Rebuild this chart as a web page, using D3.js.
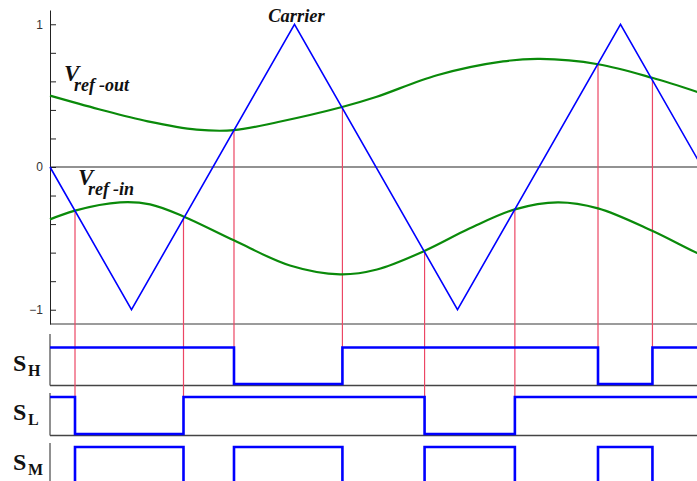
<!DOCTYPE html>
<html>
<head>
<meta charset="utf-8">
<script src="https://cdn.jsdelivr.net/npm/d3@7"></script>
<style>
  html, body { margin: 0; padding: 0; background: #fff; }
  svg { display: block; }
</style>
</head>
<body>
<script>
// Carrier triangle wave (time in carrier periods)
const carrierTimes  = [0, 0.25, 0.75, 1.25, 1.75, 2.0];
const carrierValues = [0, -1, 1, -1, 1, 0];

// Upper reference signal samples
const refOutTimes  = [0, 0.15, 0.30, 0.45, 0.564, 0.70, 0.896, 1.0, 1.187, 1.39, 1.503, 1.681, 1.847, 2.0];
const refOutValues = [0.50, 0.405, 0.32, 0.262, 0.258, 0.315, 0.42, 0.49, 0.643, 0.74, 0.757, 0.72, 0.625, 0.515];

// Lower reference signal samples
const refInTimes  = [0, 0.074, 0.215, 0.307, 0.411, 0.564, 0.736, 0.890, 1.003, 1.147, 1.288, 1.426, 1.558, 1.681, 1.847, 1.985, 2.0];
const refInValues = [-0.367, -0.307, -0.248, -0.262, -0.348, -0.514, -0.69, -0.752, -0.718, -0.59, -0.43, -0.297, -0.248, -0.29, -0.447, -0.602, -0.612];

// Carrier / reference crossing instants and which reference they belong to
const crossTimes = [0.0767, 0.4095, 0.5644, 0.897, 1.149, 1.426, 1.681, 1.848];
const crossRef   = ["in", "in", "out", "out", "in", "in", "out", "out"];

// Switching states
const shTimes  = [0, 0.5644, 0.897, 1.681, 1.848, 2.0];
const shStates = [1, 0, 1, 0, 1, 1];
const slTimes  = [0, 0.0767, 0.4095, 1.149, 1.426, 2.0];
const slStates = [1, 0, 1, 0, 1, 1];
const smTimes  = [0, 0.0767, 0.4095, 0.5644, 0.897, 1.149, 1.426, 1.681, 1.848, 2.0];
const smStates = [0, 1, 0, 1, 0, 1, 0, 1, 0, 0];

// Axis ticks
const yTicks = [-1, -0.8, -0.6, -0.4, -0.2, 0, 0.2, 0.4, 0.6, 0.8, 1];
const yTickLabels = [-1, 0, 1];

const W = 697, H = 481;
const svg = d3.select("body").append("svg").attr("width", W).attr("height", H);

const x = d3.scaleLinear().domain([0, 2]).range([50, 702]);
const y = d3.scaleLinear().domain([-1.1, 1.1]).range([324, 10]);

const zip = (ts, vs) => ts.map((t, i) => ({ t, v: vs[i] }));
const carrierAt = d3.scaleLinear().domain(carrierTimes).range(carrierValues);

// Signal rows: high / low levels and baseline
const rows = [
  { name: "H", times: shTimes, states: shStates, high: 347.5, low: 384, base: 385.5, top: 334 },
  { name: "L", times: slTimes, states: slStates, high: 397, low: 434, base: 435.5, top: 393 },
  { name: "M", times: smTimes, states: smStates, high: 447, low: 484, base: 485.5, top: 443 }
];

// Zero line and panel baseline
svg.append("line").attr("x1", x(0)).attr("x2", W).attr("y1", y(0)).attr("y2", y(0))
  .attr("stroke", "#6e6e6e").attr("stroke-width", 1.5);
svg.append("line").attr("x1", x(0)).attr("x2", W).attr("y1", y(-1.1)).attr("y2", y(-1.1))
  .attr("stroke", "#7a7a7a").attr("stroke-width", 1.5);

// Y axis with inward ticks
const yAxis = d3.axisLeft(y)
  .tickValues(yTicks)
  .tickSizeInner(-6)
  .tickSizeOuter(0)
  .tickPadding(7)
  .tickFormat(d => yTickLabels.some(v => Math.abs(v - d) < 1e-9) ? d3.format("d")(d) : "");
const gy = svg.append("g").attr("transform", `translate(${x(0)},0)`).call(yAxis);
gy.select(".domain").attr("stroke", "#222");
gy.selectAll(".tick line").attr("stroke", "#222");
gy.selectAll(".tick text")
  .attr("font-family", "'Liberation Sans', Arial, sans-serif")
  .attr("font-size", 12).attr("fill", "#333");

// Signal row frames
rows.forEach(r => {
  svg.append("line").attr("x1", x(0)).attr("x2", x(0)).attr("y1", r.top).attr("y2", r.base)
    .attr("stroke", "#222").attr("stroke-width", 1);
  svg.append("line").attr("x1", x(0)).attr("x2", W).attr("y1", r.base).attr("y2", r.base)
    .attr("stroke", "#444").attr("stroke-width", 1.5);
});

// Crossing markers
crossTimes.forEach((t, i) => {
  const row = crossRef[i] === "out" ? rows[0] : rows[1];
  svg.append("line")
    .attr("x1", x(t)).attr("x2", x(t))
    .attr("y1", y(carrierAt(t))).attr("y2", row.high)
    .attr("stroke", "#ec4664").attr("stroke-width", 1.2);
});

// Reference curves
const curveLine = d3.line().x(d => x(d.t)).y(d => y(d.v)).curve(d3.curveCatmullRom.alpha(0.5));
svg.append("path").datum(zip(refOutTimes, refOutValues)).attr("d", curveLine)
  .attr("fill", "none").attr("stroke", "#0a8a0a").attr("stroke-width", 2.2);
svg.append("path").datum(zip(refInTimes, refInValues)).attr("d", curveLine)
  .attr("fill", "none").attr("stroke", "#0a8a0a").attr("stroke-width", 2.2);

// Carrier
const carrierLine = d3.line().x(d => x(d.t)).y(d => y(d.v));
svg.append("path").datum(zip(carrierTimes, carrierValues)).attr("d", carrierLine)
  .attr("fill", "none").attr("stroke", "#0000ff").attr("stroke-width", 1.6)
  .attr("stroke-linejoin", "miter");

const serif = "'Liberation Serif', 'Times New Roman', serif";

// Switching signals
rows.forEach(r => {
  const ry = d3.scaleLinear().domain([0, 1]).range([r.low, r.high]);
  const stepLine = d3.line().x(d => x(d.t)).y(d => ry(d.v)).curve(d3.curveStepAfter);
  svg.append("path").datum(zip(r.times, r.states)).attr("d", stepLine)
    .attr("fill", "none").attr("stroke", "#0000ff").attr("stroke-width", 2.6)
    .attr("stroke-linejoin", "miter");

  const lbl = svg.append("text").attr("font-family", serif)
    .attr("font-weight", "bold").attr("fill", "#111");
  lbl.append("tspan").attr("x", 13).attr("y", r.high + 23).attr("font-size", 24).text("S");
  lbl.append("tspan").attr("x", 28).attr("y", r.high + 28).attr("font-size", 16).text(r.name);
});

// Text labels
svg.append("text").attr("x", x(0.75) + 2).attr("y", 22).attr("text-anchor", "middle")
  .attr("font-family", serif).attr("font-style", "italic").attr("font-weight", "bold")
  .attr("font-size", 18.5).attr("fill", "#111").text("Carrier");

function refLabel(px, py, sub1, sub2) {
  const t = svg.append("text").attr("font-family", serif).attr("font-style", "italic")
    .attr("font-weight", "bold").attr("fill", "#111");
  t.append("tspan").attr("x", px).attr("y", py).attr("font-size", 23).text("V");
  t.append("tspan").attr("x", px + 10).attr("y", py + 10).attr("font-size", 18).text(sub1);
  t.append("tspan").attr("dx", 4).attr("font-size", 18).text(sub2);
}
refLabel(64, 81, "ref", "-out");
refLabel(78, 185, "ref", "-in");
</script>
</body>
</html>
